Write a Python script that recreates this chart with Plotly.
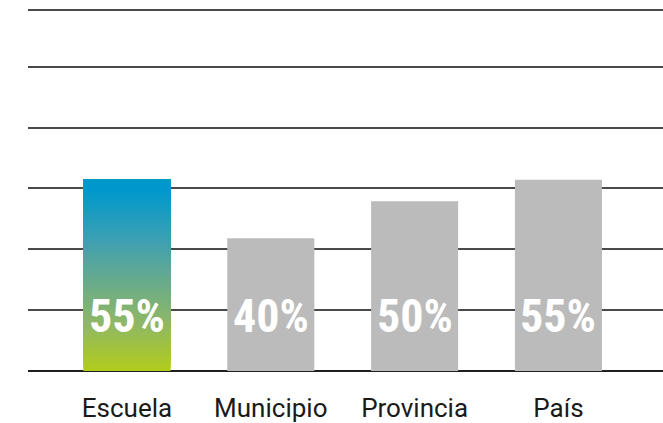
import plotly.graph_objects as go

# ---- data ----
categories = ["Escuela", "Municipio", "Provincia", "País"]
values = [55, 38.2, 48.8, 55]          # bar heights
labels = ["55%", "40%", "50%", "55%"]  # printed labels
grid_ticks = [0, 17.5, 35, 52.5, 70, 87.5, 103.8]

# ---- style ----
GRAY = "#BBBBBB"
grad_stops = [(0.0, (0, 153, 204)), (0.06, (0, 153, 204)), (0.3, (58, 159, 181)),
              (0.5, (98, 169, 146)), (0.75, (143, 184, 102)), (1.0, (178, 204, 26))]


def grad_color(t):
    for (t0, c0), (t1, c1) in zip(grad_stops[:-1], grad_stops[1:]):
        if t <= t1:
            f = 0 if t1 == t0 else (t - t0) / (t1 - t0)
            c = [round(a + (b - a) * f) for a, b in zip(c0, c1)]
            return "rgb(%d,%d,%d)" % tuple(c)
    return "rgb(%d,%d,%d)" % grad_stops[-1][1]


fig = go.Figure()

# gradient bar (first category): slices, each running from its base to the bar top
N = 96
v0 = values[0]
seg = v0 / N
fig.add_trace(go.Bar(
    x=[categories[0]] * N,
    y=[v0 - i * seg for i in range(N)],
    base=[i * seg for i in range(N)],
    width=0.605,
    marker=dict(color=[grad_color(1 - (i + 0.5) / N) for i in range(N)], line=dict(width=0)),
    hoverinfo="skip",
    showlegend=False,
))

# gray bars
fig.add_trace(go.Bar(
    x=categories[1:],
    y=values[1:],
    width=0.605,
    marker=dict(color=GRAY, line=dict(width=0)),
    showlegend=False,
))

LABEL_FONT = "Roboto Condensed, DejaVu Sans Condensed, Liberation Sans Narrow, Roboto, sans-serif"
for c, t in zip(categories, labels):
    fig.add_annotation(
        x=c, y=0, yref="y", xref="x", text=t, showarrow=False,
        yanchor="middle", yshift=55,
        font=dict(family=LABEL_FONT, size=46, color="white", weight="bold"),
    )

fig.update_layout(
    width=663, height=423,
    margin=dict(l=28, r=0, t=8, b=50),
    barmode="overlay",
    plot_bgcolor="white", paper_bgcolor="white",
    xaxis=dict(
        type="category",
        categoryorder="array", categoryarray=categories,
        range=[-0.688, 3.727],
        showgrid=False, zeroline=False, showline=False,
        ticks="", ticklabelstandoff=19,
        tickfont=dict(family="Roboto", size=26, color="#1a1a1a"),
    ),
    yaxis=dict(
        range=[0, 104.4],
        tickvals=grid_ticks, showticklabels=False,
        showgrid=True, gridcolor="#4a4a4a", gridwidth=1.5,
        zeroline=True, zerolinecolor="#1f1f1f", zerolinewidth=2,
        showline=False, ticks="",
    ),
)

fig.write_html("out.html", config={"displayModeBar": False},
               post_script="document.body.style.margin='0';")
